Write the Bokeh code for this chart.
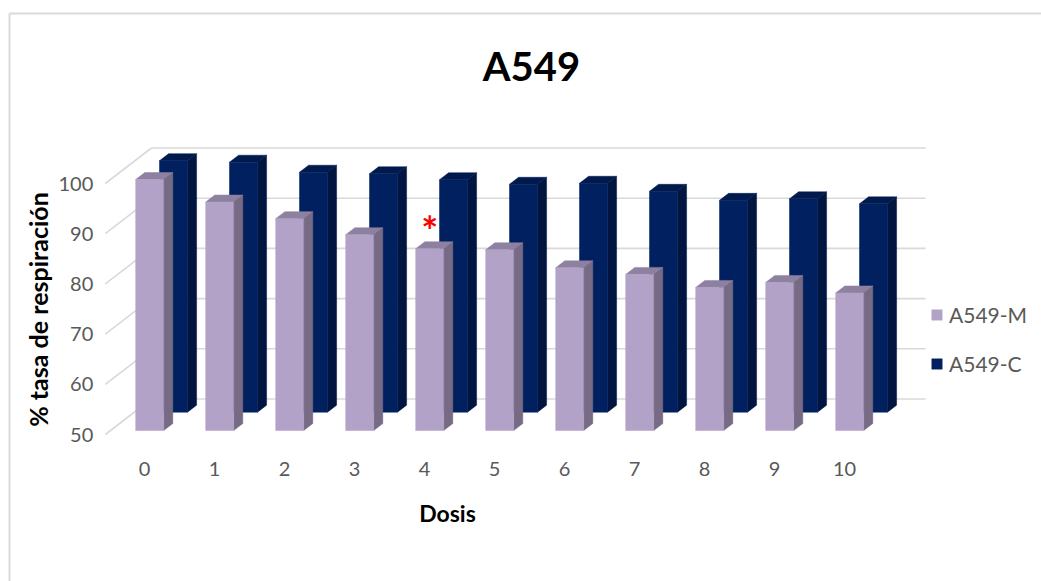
import math
from bokeh.plotting import figure
from bokeh.models import Range1d, Label, Legend, LegendItem
from bokeh.core.properties import value
from bokeh.embed import file_html
from bokeh.resources import INLINE

# ---------------- data ----------------
chart_title = "A549"
x_title = "Dosis"
y_title = "% tasa de respiración"
categories = ["0", "1", "2", "3", "4", "5", "6", "7", "8", "9", "10"]
series_names = ["A549-M", "A549-C"]
a549_m = [100.0, 95.5, 92.2, 89.0, 86.2, 86.0, 82.4, 81.1, 78.5, 79.5, 77.4]
a549_c = [100.1, 99.8, 97.8, 97.5, 96.3, 95.4, 95.6, 94.0, 92.2, 92.5, 91.5]
y_ticks = [50, 60, 70, 80, 90, 100]
y_ticks_labels = ["50", "60", "70", "80", "90", "100"]
significant_idx = [4]   # dose marked with "*"

# ---------------- layout constants ----------------
W, H = 1041, 581
PX_X = 70.0      # pixels per category
PX_Y = 5.02      # pixels per value unit
X0_PX = 144.0    # pixel x of category 0 at front plane
Y50_PX = 434.0   # pixel y (from top) of value 50 at front plane
BASE = y_ticks[0]

x_start = -X0_PX / PX_X
x_end = x_start + W / PX_X
y_start = BASE - (H - Y50_PX) / PX_Y
y_end = y_start + H / PX_Y


def px2x(px):
    return x_start + px / PX_X


def px2y(py):
    return y_start + (H - py) / PX_Y


def depth(d):
    """data offsets for a depth of d pixels (oblique projection)"""
    return d * 1.3 / PX_X, d / PX_Y


p = figure(width=W, height=H, output_backend="svg", toolbar_location=None,
           x_range=Range1d(x_start, x_end), y_range=Range1d(y_start, y_end),
           min_border=0, x_axis_location=None, y_axis_location=None)
p.outline_line_color = None
p.xgrid.visible = False
p.ygrid.visible = False
p.background_fill_color = "white"

# chart border (left and top only visible)
p.segment(x0=[px2x(9), px2x(9)], y0=[px2y(13), px2y(13)],
          x1=[px2x(9), px2x(W + 5)], y1=[px2y(H + 5), px2y(13)],
          line_color="#d9d9d9", line_width=2)

# ---------------- walls / gridlines ----------------
n = len(categories)
floor_left = -0.56
floor_right = (n - 1) + 0.5
WALL_D = 35.5
wx, wy = depth(WALL_D)
# back wall
p.segment(x0=[floor_left + wx] * len(y_ticks), y0=[t + wy for t in y_ticks],
          x1=[floor_right + wx] * len(y_ticks), y1=[t + wy for t in y_ticks],
          line_color="#d9d9d9", line_width=1.6)
# side wall
p.segment(x0=[floor_left] * len(y_ticks), y0=y_ticks,
          x1=[floor_left + wx] * len(y_ticks), y1=[t + wy for t in y_ticks],
          line_color="#d9d9d9", line_width=1.6)


# ---------------- 3D bars ----------------
def bar_faces(vals, d_front, thick, hw=0.2):
    fx0, fy0 = depth(d_front)
    fx1, fy1 = depth(d_front + thick)
    front_x, front_y, side_x, side_y, top_x, top_y = [], [], [], [], [], []
    for i, v in enumerate(vals):
        c = i
        l0, r0 = c - hw + fx0, c + hw + fx0
        l1, r1 = c - hw + fx1, c + hw + fx1
        front_x.append([l0, r0, r0, l0])
        front_y.append([BASE + fy0, BASE + fy0, v + fy0, v + fy0])
        side_x.append([r0, r1, r1, r0])
        side_y.append([BASE + fy0, BASE + fy1, v + fy1, v + fy0])
        top_x.append([l0, r0, r1, l1])
        top_y.append([v + fy0, v + fy0, v + fy1, v + fy1])
    return (front_x, front_y), (side_x, side_y), (top_x, top_y)


# back row: A549-C
cf, cs, ct = bar_faces(a549_c, 22.3, 7.0)
p.patches(xs=cs[0], ys=cs[1], fill_color="#001540", line_color="#001540", line_width=0.5)
p.patches(xs=ct[0], ys=ct[1], fill_color="#001a4d", line_color="#001a4d", line_width=0.5)
c_front = p.patches(xs=cf[0], ys=cf[1], fill_color="#002060", line_color="#002060", line_width=0.5)

# front row: A549-M
mf, ms, mt = bar_faces(a549_m, 4.0, 7.0)
p.patches(xs=ms[0], ys=ms[1], fill_color="#766a85", line_color="#766a85", line_width=0.5)
p.patches(xs=mt[0], ys=mt[1], fill_color="#8e80a0", line_color="#8e80a0", line_width=0.5)
m_front = p.patches(xs=mf[0], ys=mf[1], fill_color="#b3a2c7", line_color="#b3a2c7", line_width=0.5)

# significance asterisk
mx, my = depth(4.0)
p.text(x=[i + mx for i in significant_idx],
       y=[a549_m[i] + my + 3.6 for i in significant_idx],
       text=["*"] * len(significant_idx), text_font=value("Lato"),
       text_font_style="bold", text_font_size=value("40px"), text_color="#ff0000",
       text_align="center", text_baseline="alphabetic")

# ---------------- tick labels ----------------
p.text(x=list(range(n)), y=[BASE - 34 / PX_Y] * n, text=categories,
       text_font=value("Lato"), text_font_size=value("20px"), text_color="#595959",
       text_align="center", text_baseline="middle")
p.text(x=[floor_left - 12 / PX_X] * len(y_ticks), y=y_ticks, text=y_ticks_labels,
       text_font=value("Lato"), text_font_size=value("20px"), text_color="#595959",
       text_align="right", text_baseline="middle")

# ---------------- titles ----------------
p.add_layout(Label(x=531, y=H - 65, x_units="screen", y_units="screen",
                   text=chart_title, text_font="Lato", text_font_style="bold",
                   text_font_size="40px", text_color="#000000",
                   text_align="center", text_baseline="middle"))
p.add_layout(Label(x=447, y=H - 512, x_units="screen", y_units="screen",
                   text=x_title, text_font="Lato", text_font_style="bold",
                   text_font_size="23px", text_color="#000000",
                   text_align="center", text_baseline="middle"))
p.add_layout(Label(x=37, y=H - 309, x_units="screen", y_units="screen",
                   text=y_title, text_font="Lato", text_font_style="bold",
                   text_font_size="25px", text_color="#000000", angle=math.pi / 2,
                   text_align="center", text_baseline="middle"))

# ---------------- legend ----------------
legend = Legend(items=[LegendItem(label=series_names[0], renderers=[m_front]),
                       LegendItem(label=series_names[1], renderers=[c_front])],
                location=(930, 205), orientation="vertical",
                label_text_font="Lato", label_text_font_size="21px",
                label_text_color="#595959", glyph_width=13, glyph_height=13,
                label_height=20, spacing=24, padding=0, margin=0,
                label_standoff=6, border_line_color=None,
                background_fill_alpha=0)
p.add_layout(legend)

open("out.html", "w").write(file_html(p, INLINE))
